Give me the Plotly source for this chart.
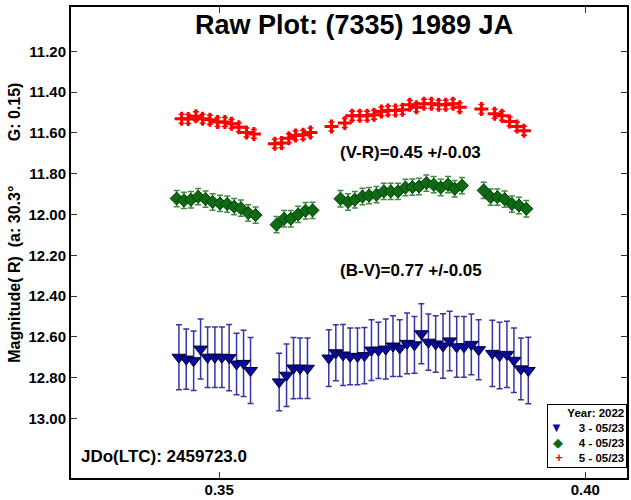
import plotly.graph_objects as go

# ---------------- data ----------------
blue_x = [0.34450, 0.34550, 0.34651, 0.34746, 0.34842, 0.34941, 0.35037, 0.35136, 0.35237, 0.35333, 0.35428,
          0.35819, 0.35920, 0.36015, 0.36105, 0.36206,
          0.36497, 0.36593, 0.36692, 0.36788, 0.36889, 0.36984, 0.37080, 0.37175, 0.37275, 0.37374, 0.37466,
          0.37566, 0.37667, 0.37762, 0.37858, 0.37957, 0.38057, 0.38148, 0.38244, 0.38343, 0.38444, 0.38544,
          0.38731, 0.38830, 0.38930, 0.39026, 0.39121, 0.39222]
blue_y = [12.700, 12.709, 12.717, 12.660, 12.700, 12.700, 12.700, 12.702, 12.733, 12.730, 12.765,
          12.821, 12.788, 12.753, 12.754, 12.754,
          12.704, 12.678, 12.689, 12.696, 12.696, 12.692, 12.665, 12.666, 12.660, 12.645, 12.655,
          12.632, 12.639, 12.585, 12.626, 12.635, 12.645, 12.620, 12.649, 12.649, 12.637, 12.663,
          12.681, 12.692, 12.686, 12.715, 12.757, 12.765]
blue_err = [0.159, 0.148, 0.146, 0.147, 0.148, 0.148, 0.148, 0.162, 0.151, 0.162, 0.162,
            0.141, 0.153, 0.150, 0.148, 0.148,
            0.139, 0.137, 0.149, 0.139, 0.139, 0.138, 0.149, 0.138, 0.147, 0.149, 0.139,
            0.149, 0.139, 0.147, 0.138, 0.138, 0.158, 0.146, 0.149, 0.149, 0.149, 0.147,
            0.162, 0.163, 0.162, 0.158, 0.151, 0.163]

green_x = [0.34419, 0.34518, 0.34614, 0.34713, 0.34814, 0.34910, 0.35010, 0.35109, 0.35205, 0.35296, 0.35396, 0.35497,
           0.35783, 0.35887, 0.35978, 0.36078, 0.36179, 0.36275,
           0.36657, 0.36760, 0.36852, 0.36957, 0.37047, 0.37148, 0.37248, 0.37343, 0.37443, 0.37544,
           0.37639, 0.37729, 0.37830, 0.37930, 0.38025, 0.38125, 0.38216, 0.38316,
           0.38612, 0.38708, 0.38799, 0.38899, 0.38998, 0.39094, 0.39195]
green_y = [11.922, 11.931, 11.928, 11.913, 11.925, 11.939, 11.946, 11.949, 11.962, 11.969, 11.993, 12.003,
           12.050, 12.021, 12.021, 12.000, 11.982, 11.980,
           11.923, 11.939, 11.928, 11.912, 11.908, 11.903, 11.887, 11.887, 11.887, 11.868,
           11.866, 11.863, 11.846, 11.854, 11.868, 11.854, 11.874, 11.859,
           11.882, 11.915, 11.915, 11.925, 11.949, 11.956, 11.972]
green_err = [0.04] * len(green_y)

red_x = [0.34487, 0.34577, 0.34682, 0.34773, 0.34873, 0.34978, 0.35078, 0.35169, 0.35269, 0.35374, 0.35474,
         0.35760, 0.35852, 0.35951, 0.36043, 0.36146, 0.36247,
         0.36534, 0.36715, 0.36815, 0.36920, 0.37020, 0.37115, 0.37216, 0.37306, 0.37407, 0.37503,
         0.37602, 0.37694, 0.37797, 0.37898, 0.37998, 0.38094, 0.38193, 0.38285,
         0.38581, 0.38762, 0.38862, 0.38967, 0.39067, 0.39162]
red_y = [11.531, 11.532, 11.519, 11.531, 11.536, 11.547, 11.547, 11.555, 11.573, 11.598, 11.605,
         11.653, 11.650, 11.626, 11.613, 11.609, 11.598,
         11.569, 11.552, 11.516, 11.516, 11.516, 11.511, 11.495, 11.490, 11.490, 11.487,
         11.462, 11.474, 11.457, 11.457, 11.462, 11.462, 11.457, 11.475,
         11.483, 11.506, 11.516, 11.544, 11.569, 11.590]
red_err = [0.022] * len(red_y)

series_names = ["3 - 05/23", "4 - 05/23", "5 - 05/23"]
series_colors = ["#0a0a9c", "#0d6b12", "#ff0000"]
legend_glyphs = ["\u25bc", "\u25c6", "<b>+</b>"]
legend_title = "Year: 2022"
y_ticks = [11.20, 11.40, 11.60, 11.80, 12.00, 12.20, 12.40, 12.60, 12.80, 13.00]
x_ticks = [0.35, 0.40]

FONT = "Liberation Sans, Arial, sans-serif"

fig = go.Figure()

fig.add_trace(go.Scatter(
    x=blue_x, y=blue_y, mode="markers", name=series_names[0],
    marker=dict(symbol="triangle-down", size=12, color=series_colors[0],
                line=dict(color="#000033", width=1)),
    error_y=dict(type="data", array=blue_err, color="#3535a5", thickness=1.5, width=3),
))
fig.add_trace(go.Scatter(
    x=green_x, y=green_y, mode="markers", name=series_names[1],
    marker=dict(symbol="diamond", size=10, color=series_colors[1],
                line=dict(color="#063806", width=1)),
    error_y=dict(type="data", array=green_err, color="#3c8f3c", thickness=1.5, width=3),
))
fig.add_trace(go.Scatter(
    x=red_x, y=red_y, mode="markers", name=series_names[2],
    marker=dict(symbol="cross-thin", size=10, color=series_colors[2],
                line=dict(color=series_colors[2], width=3)),
    error_y=dict(type="data", array=red_err, color=series_colors[2], thickness=1.5, width=3),
))

axis_common = dict(
    showgrid=False, zeroline=False, showline=True, linecolor="black", linewidth=2,
    mirror="ticks", ticks="inside", tickcolor="#333333", ticklen=6, tickwidth=1,
    automargin=False,
    tickfont=dict(family=FONT, size=15, color="black", weight="bold"),
)

fig.update_xaxes(range=[0.32976, 0.4057], tickvals=x_ticks, tickformat=".2f",
                 ticklabelstandoff=-3, **axis_common)
fig.update_yaxes(range=[13.292, 10.983], tickvals=y_ticks, tickformat=".2f", **axis_common)

fig.add_annotation(text="<b>Raw Plot: (7335) 1989 JA</b>", xref="paper", yref="paper",
                   x=0.5085, y=0.962, showarrow=False, xanchor="center", yanchor="middle",
                   font=dict(family=FONT, size=27, color="black"))
fig.add_annotation(text="<b>(V-R)=0.45 +/-0.03</b>", xref="paper", yref="paper",
                   x=0.4798, y=0.6907, showarrow=False, xanchor="left", yanchor="middle",
                   font=dict(family=FONT, size=17, color="black"))
fig.add_annotation(text="<b>(B-V)=0.77 +/-0.05</b>", xref="paper", yref="paper",
                   x=0.4798, y=0.440, showarrow=False, xanchor="left", yanchor="middle",
                   font=dict(family=FONT, size=17, color="black"))
fig.add_annotation(text="<b>JDo(LTC): 2459723.0</b>", xref="paper", yref="paper",
                   x=0.0140, y=0.0459, showarrow=False, xanchor="left", yanchor="middle",
                   font=dict(family=FONT, size=17, color="black"))
fig.add_annotation(text="<b>Magnitude( R)\u00a0\u00a0(a: 30.3°\u00a0\u00a0\u00a0\u00a0\u00a0\u00a0\u00a0\u00a0\u00a0\u00a0G: 0.15)</b>",
                   xref="paper", yref="paper", x=-0.1006, y=0.2405, textangle=-90,
                   showarrow=False, xanchor="center", yanchor="bottom",
                   font=dict(family=FONT, size=16, color="black"))

# legend box (title + one line per session)
legend_lines = ["<b>%s</b>" % legend_title] + [
    '<span style="color:%s;font-size:13px">%s</span>\u00a0\u00a0\u00a0\u00a0\u00a0<b>%s</b>' % (c, g, n)
    for c, g, n in zip(series_colors, legend_glyphs, series_names)
]
fig.add_annotation(text="<br>".join(legend_lines), xref="paper", yref="paper",
                   x=1.0, y=0.022, xanchor="right", yanchor="bottom", align="right",
                   showarrow=False, bgcolor="white", bordercolor="black", borderwidth=1,
                   borderpad=2, font=dict(family=FONT, size=11.5, color="black"))

fig.update_layout(
    width=631, height=500,
    margin=dict(l=71, r=3.5, t=7, b=21.7),
    paper_bgcolor="white", plot_bgcolor="white",
    showlegend=False,
)

fig.write_html("out.html", config={"displayModeBar": False},
               post_script="document.body.style.margin='0';document.body.style.overflow='hidden';")
